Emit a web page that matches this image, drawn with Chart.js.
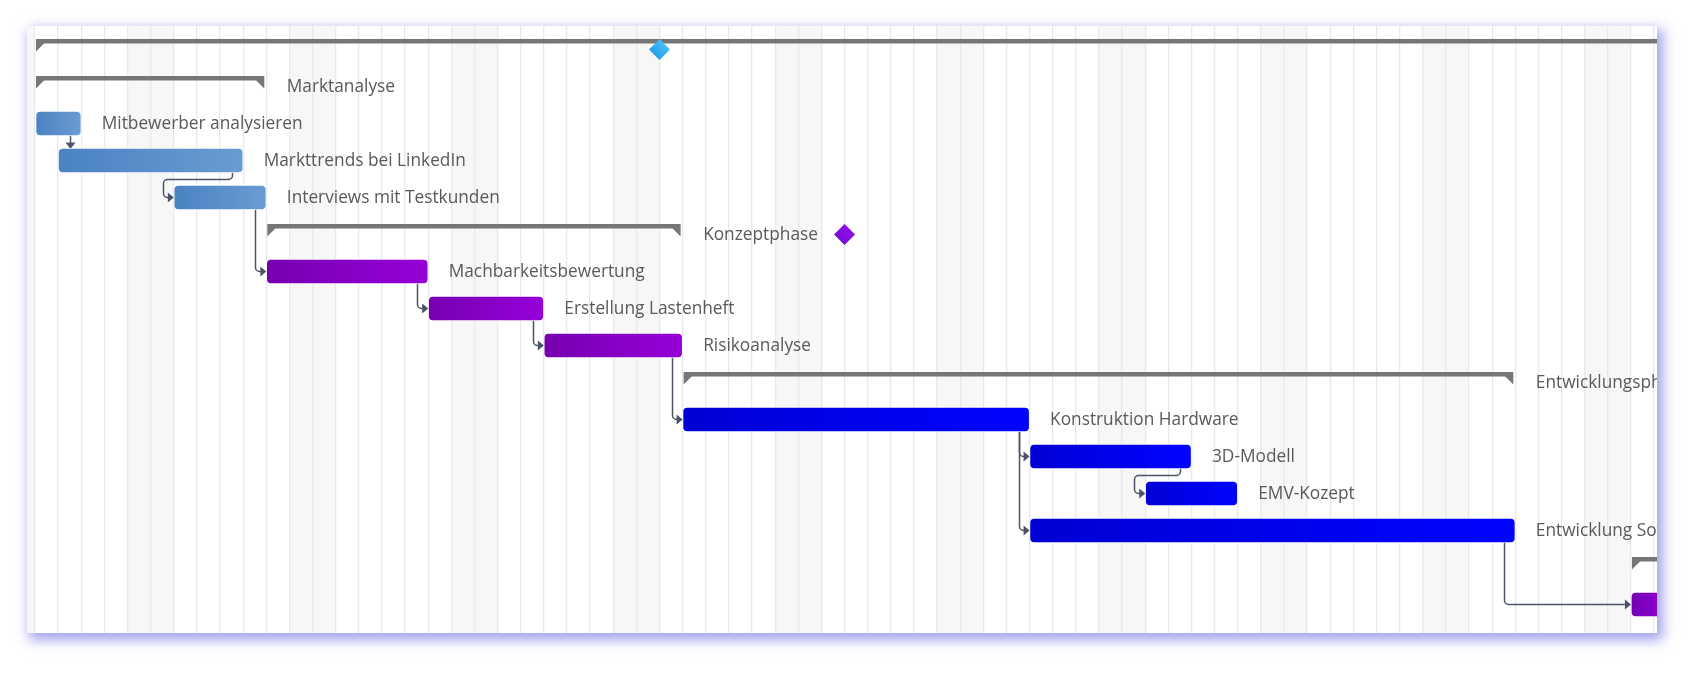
<!DOCTYPE html>
<html>
<head>
<meta charset="utf-8">
<script src="https://cdn.jsdelivr.net/npm/chart.js@4.4.1/dist/chart.umd.min.js"></script>
<style>
html,body{margin:0;padding:0;background:#ffffff;width:1700px;height:677px;overflow:hidden}
#panel{position:absolute;left:27px;top:26px;width:1630px;height:607px;background:#ffffff;
  box-shadow:4px 5px 12px 2px rgba(100,100,225,0.6);}
canvas{display:block}
</style>
</head>
<body>
<div id="panel"><canvas id="gantt" width="1630" height="607"></canvas></div>
<script>
// ---------- DATA ----------
const rowNames = ['Projekt', 'Marktanalyse', 'Mitbewerber analysieren', 'Markttrends bei LinkedIn',
  'Interviews mit Testkunden', 'Konzeptphase', 'Machbarkeitsbewertung', 'Erstellung Lastenheft',
  'Risikoanalyse', 'Entwicklungsphase', 'Konstruktion Hardware', '3D-Modell', 'EMV-Kozept',
  'Entwicklung Software', 'Testphase', 'Prototyp testen'];
const rowKinds = ['summary', 'summary', 'task', 'task', 'task', 'summary', 'task', 'task', 'task',
  'summary', 'task', 'task', 'task', 'task', 'summary', 'task'];
const startDay = [0, 0, 0, 1, 6, 10, 10, 17, 22, 28, 28, 43, 48, 43, 69, 69];
const endDay   = [95, 10, 2, 9, 10, 28, 17, 22, 28, 64, 43, 50, 52, 64, 90, 76];
const rowPhase = ['projekt', 'markt', 'markt', 'markt', 'markt', 'konzept', 'konzept', 'konzept',
  'konzept', 'entwicklung', 'entwicklung', 'entwicklung', 'entwicklung', 'entwicklung', 'test', 'test'];
const milestoneDay = [27, 35];
const milestoneRow = [0, 5];
const milestonePhase = ['projekt', 'konzept'];
const linkFrom  = [2, 3, 4, 6, 7, 8, 10, 10, 11, 13];
const linkTo    = [3, 4, 6, 7, 8, 10, 11, 13, 12, 15];
const linkRoute = ['down', 'detour', 'elbow', 'elbow', 'elbow', 'elbow', 'elbow', 'elbow', 'detour', 'elbow'];
const weekendDays = [4, 5, 11, 12, 18, 19, 25, 26, 32, 33, 39, 40, 46, 47, 53, 54, 60, 61, 67, 68];
const dayMin = -0.346, dayMax = 70.126;
const rowMin = -0.635, rowMax = 15.77;

// ---------- STYLES ----------
const phaseColors = {
  markt: ['#4a82c3', '#6a9cd2'],
  konzept: ['#7600b0', '#9600d8'],
  entwicklung: ['#0000d4', '#0004ff'],
  test: ['#7400b4', '#8a00cc'],
  projekt: ['#1c98e6', '#4fc6fb']
};
const milestoneColors = { projekt: ['#1c98e6', '#4fc6fb'], konzept: ['#6c10d8', '#9a0ae8'] };
const textColor = '#595959';
const summaryColor = '#767676';
const linkColor = '#4a5466';
const labelFont = '17.3px "Open Sans", "Noto Sans", sans-serif';

const taskData = [];
rowNames.forEach((n, i) => { if (rowKinds[i] === 'task') taskData.push({ x: [startDay[i], endDay[i]], y: i, row: i }); });
const msData = milestoneDay.map((d, i) => ({ x: d, y: milestoneRow[i], ph: milestonePhase[i] }));

function barGradient(c) {
  if (c.type !== 'data' || !c.raw) return '#4a82c3';
  const cols = phaseColors[rowPhase[c.raw.row]];
  const xs = c.chart.scales.x;
  if (!xs) return cols[0];
  const x0 = xs.getPixelForValue(c.raw.x[0]), x1 = xs.getPixelForValue(c.raw.x[1]);
  if (!isFinite(x0) || !isFinite(x1)) return cols[0];
  const g = c.chart.ctx.createLinearGradient(x0, 0, Math.min(x1, c.chart.width), 0);
  g.addColorStop(0, cols[0]); g.addColorStop(1, cols[1]);
  return g;
}
function msGradient(c) {
  if (c.type !== 'data' || !c.raw) return '#2aa8f0';
  const cols = milestoneColors[c.raw.ph];
  const xs = c.chart.scales.x, ys = c.chart.scales.y;
  if (!xs || !ys) return cols[0];
  const px = xs.getPixelForValue(c.raw.x), py = ys.getPixelForValue(c.raw.y);
  if (!isFinite(px) || !isFinite(py)) return cols[0];
  const g = c.chart.ctx.createLinearGradient(px - 8, py + 8, px + 8, py - 8);
  g.addColorStop(0, cols[0]); g.addColorStop(1, cols[1]);
  return g;
}

function roundedPolyline(ctx, pts, r) {
  ctx.beginPath();
  ctx.moveTo(pts[0][0], pts[0][1]);
  for (let i = 1; i < pts.length - 1; i++) ctx.arcTo(pts[i][0], pts[i][1], pts[i + 1][0], pts[i + 1][1], r);
  ctx.lineTo(pts[pts.length - 1][0], pts[pts.length - 1][1]);
  ctx.stroke();
}

const ganttPlugin = {
  id: 'ganttDecor',
  beforeDraw(chart) {
    const { ctx, scales: { x } } = chart;
    ctx.save();
    ctx.fillStyle = '#f7f7f7';
    const x0 = x.getPixelForValue(dayMin), xz = x.getPixelForValue(0);
    ctx.fillRect(x0, 0, xz - x0, chart.height);
    weekendDays.forEach(d => {
      const a = x.getPixelForValue(d), b = x.getPixelForValue(d + 1);
      ctx.fillRect(a, 0, b - a, chart.height);
    });
    ctx.restore();
  },
  beforeDatasetsDraw(chart) {
    const { ctx, scales: { x, y } } = chart;
    ctx.save();
    // summary brackets
    ctx.fillStyle = summaryColor;
    rowNames.forEach((n, i) => {
      if (rowKinds[i] !== 'summary') return;
      const cy = y.getPixelForValue(i);
      const x0 = x.getPixelForValue(startDay[i]) + 1;
      const x1 = x.getPixelForValue(endDay[i]) - 2;
      ctx.fillRect(x0, cy - 10.5, x1 - x0, 4.5);
      ctx.beginPath();
      ctx.moveTo(x0, cy - 6.5); ctx.lineTo(x0 + 8.5, cy - 6.5); ctx.lineTo(x0, cy + 2); ctx.closePath(); ctx.fill();
      ctx.beginPath();
      ctx.moveTo(x1, cy - 6.5); ctx.lineTo(x1 - 8.5, cy - 6.5); ctx.lineTo(x1, cy + 2); ctx.closePath(); ctx.fill();
    });
    // dependency links
    ctx.strokeStyle = linkColor;
    ctx.fillStyle = linkColor;
    ctx.lineWidth = 1.5;
    const rowH = Math.abs(y.getPixelForValue(1) - y.getPixelForValue(0));
    linkFrom.forEach((f, k) => {
      const t = linkTo[k];
      const vx = Math.round(x.getPixelForValue(endDay[f]) - 11) + 0.5;
      const ys = y.getPixelForValue(f);
      const yt = y.getPixelForValue(t);
      const xs = x.getPixelForValue(startDay[t]);
      const route = linkRoute[k];
      if (route === 'down') {
        const tip = yt - 11.5;
        roundedPolyline(ctx, [[vx, ys], [vx, tip - 5]], 4);
        ctx.beginPath(); ctx.moveTo(vx - 5, tip - 6.5); ctx.lineTo(vx + 5, tip - 6.5); ctx.lineTo(vx, tip); ctx.closePath(); ctx.fill();
      } else {
        let pts;
        if (route === 'elbow') {
          pts = [[vx, ys], [vx, yt], [xs - 4, yt]];
        } else {
          const mid = Math.round(ys + rowH / 2) + 0.5;
          const lx = Math.round(xs - 11) + 0.5;
          pts = [[vx, ys], [vx, mid], [lx, mid], [lx, yt], [xs - 4, yt]];
        }
        roundedPolyline(ctx, pts, 4);
        ctx.beginPath(); ctx.moveTo(xs - 6, yt - 5); ctx.lineTo(xs, yt); ctx.lineTo(xs - 6, yt + 5); ctx.closePath(); ctx.fill();
      }
    });
    ctx.restore();
  },
  afterDatasetsDraw(chart) {
    const { ctx, scales: { x, y } } = chart;
    ctx.save();
    ctx.font = labelFont;
    ctx.fillStyle = textColor;
    ctx.textBaseline = 'middle';
    ctx.textAlign = 'left';
    rowNames.forEach((n, i) => {
      const px = x.getPixelForValue(endDay[i]) + 20.5;
      const py = y.getPixelForValue(i);
      ctx.fillText(n, px, py + 0.5);
    });
    ctx.restore();
  }
};

new Chart(document.getElementById('gantt'), {
  type: 'bar',
  data: {
    datasets: [
      {
        type: 'scatter',
        label: 'Meilensteine',
        data: msData,
        pointStyle: 'rectRot',
        pointRadius: 10.5,
        pointHoverRadius: 10.5,
        borderWidth: 0,
        backgroundColor: msGradient,
        clip: false
      },
      {
        label: 'Vorgänge',
        data: taskData,
        backgroundColor: barGradient,
        borderColor: 'rgba(255,255,255,0.85)',
        borderWidth: 1,
        borderRadius: 5,
        borderSkipped: false,
        barThickness: 25
      }
    ]
  },
  options: {
    indexAxis: 'y',
    responsive: false,
    animation: false,
    devicePixelRatio: 1,
    layout: { padding: 0, autoPadding: false },
    plugins: { legend: { display: false }, tooltip: { enabled: false }, title: { display: false } },
    scales: {
      x: {
        type: 'linear',
        position: 'bottom',
        min: dayMin,
        max: dayMax,
        display: true,
        offset: false,
        ticks: { display: false, stepSize: 1, includeBounds: false, autoSkip: false },
        grid: { color: '#e6e9ef', lineWidth: 1.3, drawTicks: false, offset: false },
        border: { display: false }
      },
      y: {
        type: 'linear',
        min: rowMin,
        max: rowMax,
        reverse: true,
        offset: false,
        display: false,
        grid: { display: false, offset: false }
      }
    }
  },
  plugins: [ganttPlugin]
});
</script>
</body>
</html>
